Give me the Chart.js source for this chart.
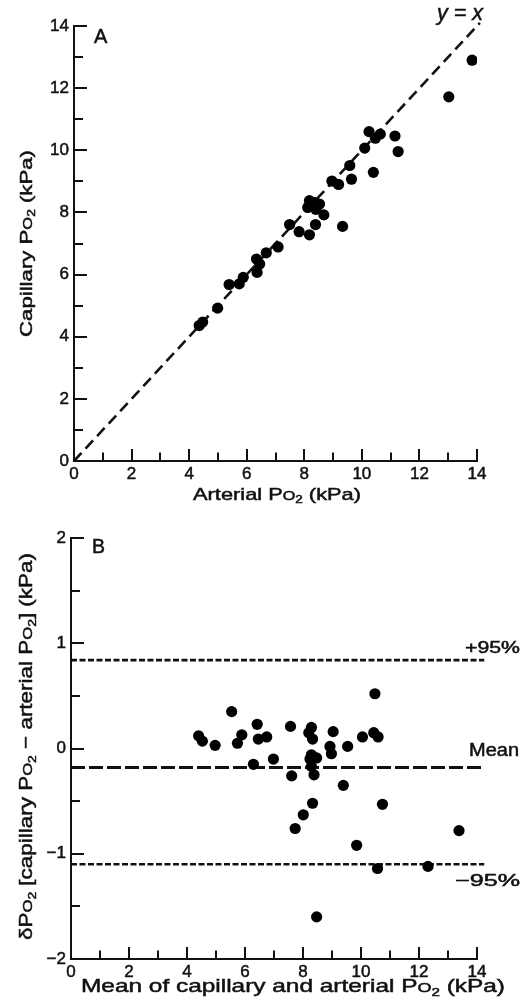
<!DOCTYPE html>
<html>
<head>
<meta charset="utf-8">
<script src="https://cdn.jsdelivr.net/npm/chart.js@4.4.0/dist/chart.umd.min.js"></script>
<style>
  body { margin: 0; background: #fff; }
  .wrap { position: absolute; left: 0; width: 521px; }
  #wrapA { top: 0; height: 505px; }
  #wrapB { top: 505px; height: 499px; }
</style>
</head>
<body>
<div class="wrap" id="wrapA"><canvas id="chartA"></canvas></div>
<div class="wrap" id="wrapB"><canvas id="chartB"></canvas></div>
<script>
// Panel A: capillary vs arterial PO2 (kPa)
const arterialA = [4.35, 4.47, 4.99, 5.39, 5.74, 5.88, 6.36, 6.45, 6.34, 6.68, 7.09, 7.49, 7.82, 8.18, 8.39, 8.68, 8.12, 8.40,
  8.18, 8.36, 8.53, 9.33, 8.96, 9.19, 9.64, 9.58, 10.40, 10.10, 10.25, 10.47, 10.64, 11.15, 11.26, 13.02, 13.83];
const capillaryA = [4.36, 4.47, 4.92, 5.68, 5.70, 5.91, 6.07, 6.34, 6.50, 6.70, 6.89, 7.61, 7.38, 7.28, 7.61, 7.92, 8.16, 8.10,
  8.38, 8.32, 8.27, 7.55, 9.01, 8.90, 9.07, 9.51, 9.29, 10.07, 10.60, 10.39, 10.52, 10.46, 9.96, 11.72, 12.90];
const identityEnds = [0, 14.1];

// Panel B: difference against mean
const meanB = [4.40, 4.53, 4.97, 5.54, 5.89, 5.74, 6.42, 6.46, 6.75, 6.29, 6.98, 7.57, 7.61, 8.29, 8.20, 8.33, 8.29, 8.47, 8.24,
  8.29, 8.38, 9.04, 8.93, 8.98, 9.54, 10.05, 10.44, 10.59, 10.48, 8.33, 8.01, 7.73, 8.47, 9.39, 10.74, 9.85, 10.57, 12.31, 13.38];
const diffB = [0.12, 0.07, 0.03, 0.35, 0.13, 0.05, 0.23, 0.09, 0.11, -0.15, -0.10, 0.21, -0.26, 0.20, 0.15, 0.09, -0.06, -0.09, -0.10,
  -0.17, -0.25, 0.16, 0.02, -0.05, 0.02, 0.11, 0.15, 0.11, 0.52, -0.52, -0.63, -0.76, -1.60, -0.35, -0.53, -0.92, -1.14, -1.12, -0.78];
const upper95 = 0.84;
const meanDiff = -0.18;
const lower95 = -1.10;
const refLineEnds = [0, 14.25];

const FONT = '"Liberation Sans", Arial, Helvetica, sans-serif';
Chart.defaults.font.family = FONT;
Chart.defaults.color = '#111';

// text with small "O" and subscript "2", stretched to a given width
function richText(ctx, parts, x, y, size, width, vertical, italic) {
  const font = s => (italic ? 'italic ' : '') + s + 'px ' + FONT;
  const segs = parts.map(([t, k]) => ({
    t, s: k === 'o' ? size * 0.74 : k === '2' ? size * 0.62 : size, dy: k === '2' ? size * 0.2 : 0
  }));
  let natural = 0;
  segs.forEach(g => { ctx.font = font(g.s); g.w = ctx.measureText(g.t).width; natural += g.w; });
  ctx.save();
  ctx.translate(x, y);
  if (vertical) ctx.rotate(-Math.PI / 2);
  ctx.scale(width ? width / natural : 1, 1);
  ctx.fillStyle = '#111';
  ctx.strokeStyle = '#111';
  ctx.lineWidth = 0.5;
  ctx.textAlign = 'left';
  ctx.textBaseline = 'alphabetic';
  let cx = 0;
  segs.forEach(g => {
    ctx.font = font(g.s);
    ctx.fillText(g.t, cx, g.dy);
    ctx.strokeText(g.t, cx, g.dy);
    cx += g.w;
  });
  ctx.restore();
}
const po2 = [['P'], ['O', 'o'], ['2', '2']];

// tick marks drawn inward from the axes
const innerTicks = {
  id: 'innerTicks',
  afterDatasetsDraw(chart, args, opts) {
    const { ctx, chartArea: area } = chart;
    const sx = chart.scales.x, sy = chart.scales.y;
    ctx.save();
    ctx.strokeStyle = '#111';
    ctx.lineWidth = 2;
    ctx.beginPath();
    sx.ticks.forEach(t => {
      const px = Math.round(sx.getPixelForValue(t.value));
      const major = Math.abs(t.value % opts.xMajor) < 1e-6;
      ctx.moveTo(px, area.bottom);
      ctx.lineTo(px, area.bottom - (major ? 12 : 8.5));
    });
    sy.ticks.forEach(t => {
      const py = Math.round(sy.getPixelForValue(t.value));
      const major = Math.abs(t.value % opts.yMajor) < 1e-6;
      ctx.moveTo(area.left, py);
      ctx.lineTo(area.left + (major ? 13 : 9), py);
    });
    ctx.stroke();
    ctx.restore();
  }
};

function axis(min, max, step, major, fit, isX) {
  return {
    type: 'linear', min, max,
    grid: { display: false, drawTicks: false },
    border: { color: '#111', width: 2 },
    ticks: {
      stepSize: step, autoSkip: false, padding: isX ? 3 : 5,
      font: { size: 17 }, color: '#111', maxRotation: 0,
      textStrokeColor: '#111', textStrokeWidth: 0.5,
      callback: v => Math.abs(v % major) < 1e-6 ? (v < 0 ? '\u2212' + Math.abs(v) : String(v)) : ''
    },
    afterFit: s => { if (isX) s.height = fit; else s.width = fit; }
  };
}

const common = {
  responsive: true,
  maintainAspectRatio: false,
  animation: false,
  events: [],
  devicePixelRatio: 1,
  plugins: { legend: { display: false }, tooltip: { enabled: false } }
};

new Chart(document.getElementById('chartA'), {
  type: 'scatter',
  data: {
    datasets: [
      {
        data: arterialA.map((a, i) => ({ x: a, y: capillaryA[i] })),
        backgroundColor: '#000', borderWidth: 0, pointRadius: 5.6
      },
      {
        data: identityEnds.map(v => ({ x: v, y: v })),
        showLine: true, borderColor: '#111', borderWidth: 2.6, borderDash: [11, 6],
        pointRadius: 0, clip: false
      }
    ]
  },
  options: {
    ...common,
    layout: { padding: { top: 26, right: 44, left: 0, bottom: 0 } },
    scales: {
      x: axis(0, 14, 1, 2, 44, true),
      y: axis(0, 14, 1, 2, 74, false)
    },
    plugins: { ...common.plugins, innerTicks: { xMajor: 2, yMajor: 2 } }
  },
  plugins: [innerTicks, {
    id: 'textA',
    afterDraw(chart) {
      const ctx = chart.ctx;
      richText(ctx, [['A']], 94, 43, 20);
      richText(ctx, [['y = x']], 437, 20, 22, 46, false, true);
      richText(ctx, [['Arterial '], ...po2, [' (kPa)']], 193, 500, 17, 168);
      richText(ctx, [['Capillary '], ...po2, [' (kPa)']], 32, 337, 17, 187, true);
    }
  }]
});

new Chart(document.getElementById('chartB'), {
  type: 'scatter',
  data: {
    datasets: [
      {
        data: meanB.map((m, i) => ({ x: m, y: diffB[i] })),
        backgroundColor: '#000', borderWidth: 0, pointRadius: 5.6
      },
      {
        data: refLineEnds.map(v => ({ x: v, y: upper95 })),
        showLine: true, borderColor: '#111', borderWidth: 2.6, borderDash: [6, 2.5],
        pointRadius: 0, clip: false
      },
      {
        data: refLineEnds.map(v => ({ x: v, y: meanDiff })),
        showLine: true, borderColor: '#111', borderWidth: 3, borderDash: [14, 4],
        pointRadius: 0, clip: false
      },
      {
        data: refLineEnds.map(v => ({ x: v, y: lower95 })),
        showLine: true, borderColor: '#111', borderWidth: 2.6, borderDash: [6, 2.5],
        pointRadius: 0, clip: false
      }
    ]
  },
  options: {
    ...common,
    layout: { padding: { top: 33, right: 44, left: 0, bottom: 0 } },
    scales: {
      x: axis(0, 14, 1, 2, 45, true),
      y: axis(-2, 2, 0.5, 1, 71, false)
    },
    plugins: { ...common.plugins, innerTicks: { xMajor: 2, yMajor: 1 } }
  },
  plugins: [innerTicks, {
    id: 'textB',
    afterDraw(chart) {
      const ctx = chart.ctx;
      const sy = chart.scales.y;
      richText(ctx, [['B']], 92, 48, 19.5);
      richText(ctx, [['+95%']], 465, sy.getPixelForValue(upper95) - 7, 16.5, 55);
      richText(ctx, [['Mean']], 469, sy.getPixelForValue(meanDiff) - 11, 18, 50);
      richText(ctx, [['\u221295%']], 455, sy.getPixelForValue(lower95) + 22, 16.5, 65);
      richText(ctx, [['Mean of capillary and arterial '], ...po2, [' (kPa)']], 81, 487, 18.5, 424);
      richText(ctx, [['\u03b4'], ...po2, [' [capillary '], ...po2, [' \u2212 arterial '], ...po2, ['] (kPa)']],
        32, 435, 18.5, 387, true);
    }
  }]
});
</script>
</body>
</html>
